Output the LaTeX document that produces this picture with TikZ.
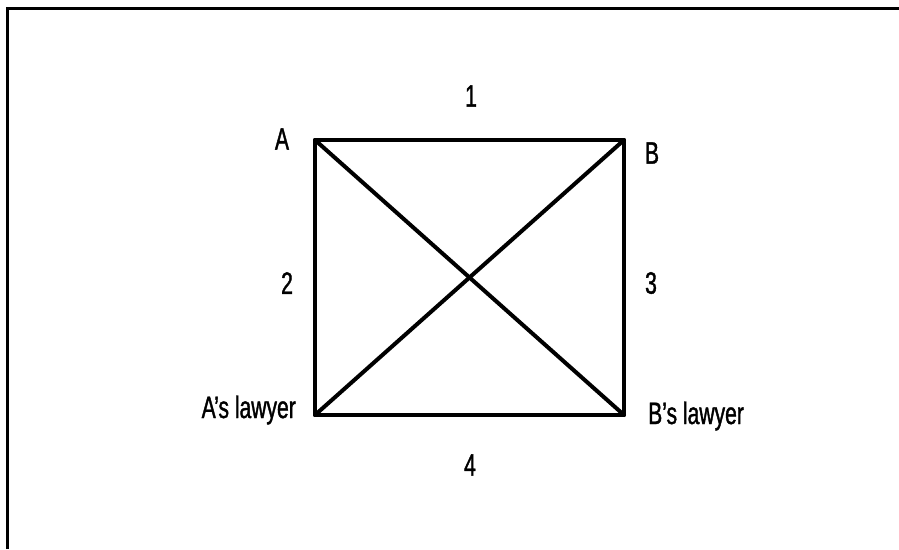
\documentclass[tikz,border=0pt]{standalone}
\usepackage{fontspec}
\setmainfont[FakeStretch=0.68,FakeBold=1.2]{Liberation Sans}
\begin{document}
\begin{tikzpicture}[x=1pt,y=-1pt,
  edge/.style={line width=4pt,line cap=round,line join=round},
  frame/.style={line width=3pt},
  lbl/.style={font=\fontsize{31}{31}\selectfont,inner sep=0pt}]
\useasboundingbox (0,0) rectangle (899,549);
\coordinate (fl) at (7,549);
\coordinate (fc) at (7,8);
\coordinate (fr) at (899,8);
\draw[frame] (fl) -- (fc) -- (fr);
\coordinate (A) at (315,140);
\coordinate (B) at (624,140);
\coordinate (Al) at (315,415);
\coordinate (Bl) at (624,415);
\draw[edge] (A) -- (B) -- (Bl) -- (Al) -- cycle;
\draw[edge] (A) -- (Bl);
\draw[edge] (B) -- (Al);
\node[lbl] (l1) at (471,96) {1};
\node[lbl] (lA) at (282,139) {A};
\node[lbl] (lB) at (652,153) {B};
\node[lbl] (l2) at (287,283) {2};
\node[lbl] (l3) at (651,283) {3};
\node[lbl,anchor=east] (lAl) at (296,410) {A’s lawyer};
\node[lbl,anchor=west] (lBl) at (648,416) {B’s lawyer};
\node[lbl] (l4) at (470,465) {4};
\end{tikzpicture}
\end{document}
